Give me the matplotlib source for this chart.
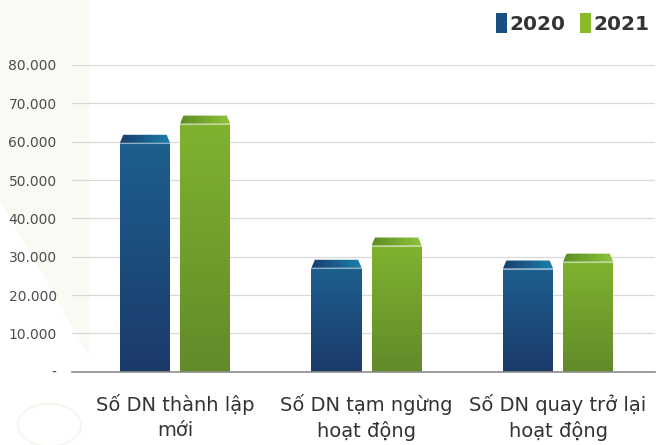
import numpy as np
import matplotlib
matplotlib.use("Agg")
import matplotlib.pyplot as plt
from matplotlib.patches import Polygon, Patch, Circle
from matplotlib.colors import LinearSegmentedColormap

categories = ["Số DN thành lập\nmới", "Số DN tạm ngừng\nhoạt động", "Số DN quay trở lại\nhoạt động"]
series_names = ["2020", "2021"]
v2020 = [61800, 29200, 29000]
v2021 = [66800, 35000, 30800]
yticks = [0, 10000, 20000, 30000, 40000, 50000, 60000, 70000, 80000]
ytick_labels = ["-", "10.000", "20.000", "30.000", "40.000", "50.000", "60.000", "70.000", "80.000"]

plt.rcParams["font.family"] = ["DejaVu Sans"]

# face gradient (top -> bottom) and bevel gradient (left -> right) per series
face_cols = [("#1d5f8e", "#1b3a6a"), ("#80b22f", "#628a2a")]
bevel_cols = [("#1a3d6d", "#1b80ad"), ("#5c8c25", "#8fc63b")]

fig = plt.figure(figsize=(6.59, 4.45), dpi=100)

# faint watermark shapes behind the chart
wm = "#fafaf4"
fig.patches.append(Polygon([(0, 1.0), (0.135, 1.0), (0.135, 0.2), (0.0, 0.55)], closed=True,
                           transform=fig.transFigure, facecolor=wm, edgecolor="none", zorder=0))
fig.patches.append(Circle((0.075, 0.045), 0.048, transform=fig.transFigure, facecolor="none",
                          edgecolor="#f6f6ef", lw=1.5, zorder=0))

ax = fig.add_axes([72 / 659, 1 - 371.7 / 445, 583 / 659, (371.7 - 65) / 445])
ax.set_zorder(2)
ax.patch.set_alpha(0)

x = np.arange(len(categories))
width = 0.262
offset = 0.157
bevel_h = 2100   # height of the bevelled cap in data units
inset = 0.018    # horizontal inset of the cap's top edge

xmin, xmax = -0.538, 2.506
ymin, ymax = 0, 80000

for s, vals in enumerate([v2020, v2021]):
    pos = x + (offset if s else -offset)
    bars = ax.bar(pos, vals, width, color="none", zorder=3)
    fcmap = LinearSegmentedColormap.from_list("f%d" % s, face_cols[s])
    bcmap = LinearSegmentedColormap.from_list("b%d" % s, bevel_cols[s])
    for p, v in zip(pos, vals):
        l, r = p - width / 2, p + width / 2
        body = Polygon([(l, 0), (r, 0), (r, v - bevel_h), (l, v - bevel_h)],
                       closed=True, facecolor="none", edgecolor="none")
        ax.add_patch(body)
        grad = np.linspace(0, 1, 256).reshape(-1, 1)
        im = ax.imshow(grad, cmap=fcmap, extent=(l, r, 0, v - bevel_h),
                       aspect="auto", zorder=3, origin="upper", vmin=0, vmax=1)
        im.set_clip_path(body)
        cap = Polygon([(l, v - bevel_h), (r, v - bevel_h), (r - inset, v), (l + inset, v)],
                      closed=True, facecolor="none", edgecolor="none")
        ax.add_patch(cap)
        hgrad = np.linspace(0, 1, 256).reshape(1, -1)
        im2 = ax.imshow(hgrad, cmap=bcmap, extent=(l, r, v - bevel_h, v),
                        aspect="auto", zorder=4, vmin=0, vmax=1)
        im2.set_clip_path(cap)
        # light rim between cap and face
        ax.plot([l, r], [v - bevel_h, v - bevel_h], color="white", lw=0.8,
                alpha=0.5, zorder=5)

ax.set_xlim(xmin, xmax)
ax.set_ylim(ymin, ymax)
ax.set_yticks(yticks)
ax.set_yticklabels(ytick_labels, color="#4d4d4d", fontsize=10)
ax.set_xticks(x)
ax.set_xticklabels(categories, color="#333333", fontsize=14, linespacing=1.4)
ax.tick_params(axis="both", length=0)
ax.tick_params(axis="y", pad=11)
ax.tick_params(axis="x", pad=16)
ax.grid(axis="y", color="#d9d9d9", lw=0.9, zorder=0)
for sp in ["top", "right", "left"]:
    ax.spines[sp].set_visible(False)
ax.spines["bottom"].set_color("#8c8c8c")
ax.spines["bottom"].set_linewidth(1.2)
ax.spines["bottom"].set_zorder(6)

handles = [Patch(facecolor="#1a4f80"), Patch(facecolor="#8aba2a")]
leg = fig.legend(handles, series_names, loc="upper right", bbox_to_anchor=(1.013, 1.012),
                 ncol=2, frameon=False, handlelength=0.55, handleheight=1.2,
                 handletextpad=0.1, columnspacing=0.75,
                 prop={"weight": "bold", "size": 14.5})
for t in leg.get_texts():
    t.set_color("#333333")

fig.savefig("out.png", dpi=100)
